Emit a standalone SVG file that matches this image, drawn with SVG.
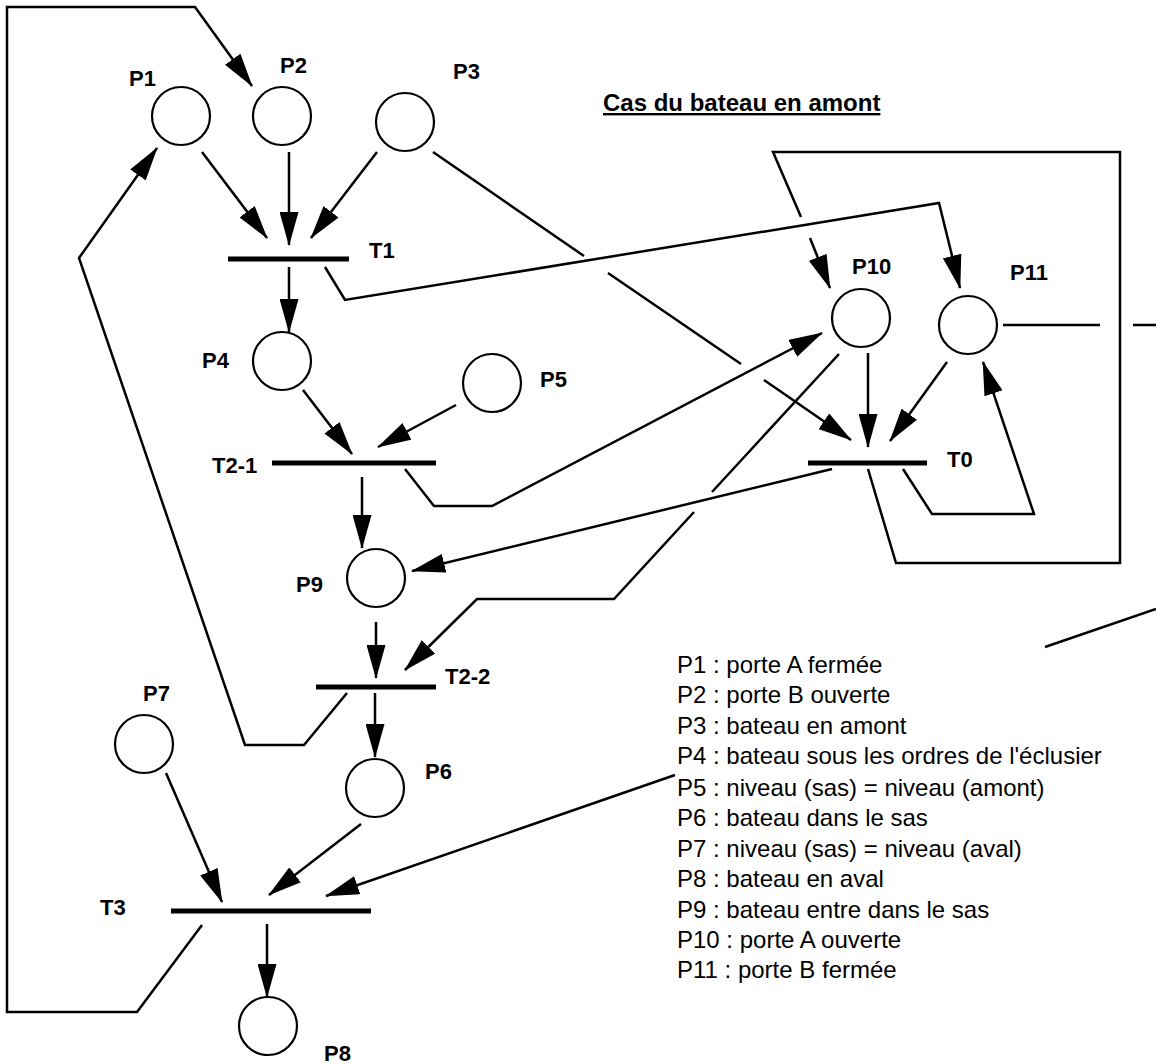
<svg xmlns="http://www.w3.org/2000/svg" width="1156" height="1064" viewBox="0 0 1156 1064">
<style>
  .place { fill: #fff; stroke: #000; stroke-width: 2.2; }
  .bar { stroke: #000; stroke-width: 5; }
  .arc { fill: none; stroke: #000; stroke-width: 2.5; stroke-linejoin: miter; }
  .arr { marker-end: url(#ah); }
  .lbl { font-family: "Liberation Sans", Arial, Helvetica, sans-serif; font-weight: bold; font-size: 22px; fill: #000; }
  .leg { font-family: "Liberation Sans", Arial, Helvetica, sans-serif; font-size: 24px; fill: #000; }
  .title { font-family: "Liberation Sans", Arial, Helvetica, sans-serif; font-weight: bold; font-size: 24px; fill: #000; text-decoration: underline; }
</style>
<defs>
  <marker id="ah" markerUnits="userSpaceOnUse" markerWidth="34" markerHeight="19" viewBox="0 0 34 19" refX="33" refY="9.5" orient="auto">
    <path d="M0,0 L34,9.5 L0,19 Z" fill="#000"/>
  </marker>
</defs>
<rect width="1156" height="1064" fill="#fff"/>

<g id="connectors">
  <path class="arc arr" d="M202,152 L267,238"/>
  <path class="arc arr" d="M289,152 L289,245"/>
  <path class="arc arr" d="M377,152 L311,238"/>
  <path class="arc arr" d="M289,267 L289,332"/>
  <path class="arc arr" d="M303,390 L352,454"/>
  <path class="arc arr" d="M456,405 L378,447"/>
  <path class="arc arr" d="M362,477 L362,548"/>
  <path class="arc arr" d="M376,622 L376,678"/>
  <path class="arc arr" d="M375,693 L375,757"/>
  <path class="arc arr" d="M166,773 L222,902"/>
  <path class="arc arr" d="M361,824 L269,895"/>
  <path class="arc arr" d="M267,924 L267,997"/>
  <path class="arc arr" d="M202,925 L137,1012 L7,1012 L7,7 L195,7 L252,86"/>
  <path class="arc arr" d="M347,693 L304,745 L245,745 L79,258 L157,148"/>
  <path class="arc arr" d="M325,267 L345,300 L939,203 L960,288"/>
  <path class="arc arr" d="M433,152 L584,256 M608,273 L741,364 M764,380 L851,440"/>
  <path class="arc arr" d="M405,469 L434,506 L492,506 L822,333"/>
  <path class="arc arr" d="M839,354 L712,492 M694,512 L614,599 L477,599 L405,670"/>
  <path class="arc arr" d="M868,353 L868,447"/>
  <path class="arc arr" d="M947,362 L890,441"/>
  <path class="arc arr" d="M903,469 L932,514 L1034,514 L983,362"/>
  <path class="arc arr" d="M832,469 L412,571"/>
  <path class="arc arr" d="M868,469 L896,563 L1120,563 L1120,152 L773,152 L801,217 M810,238 L830,288"/>
  <path class="arc" d="M1003,325 L1100,325 M1133,325 L1156,325"/>
  <path class="arc arr" d="M1156,609 L1045,647 M675,775 L326,896"/>
</g>

<g id="P1"><circle class="place" cx="181" cy="116" r="29"/><text class="lbl" x="129" y="86">P1</text></g>
<g id="P2"><circle class="place" cx="282" cy="116" r="29"/><text class="lbl" x="280" y="73">P2</text></g>
<g id="P3"><circle class="place" cx="405" cy="122" r="29"/><text class="lbl" x="453" y="79">P3</text></g>
<g id="P4"><circle class="place" cx="282" cy="361" r="29"/><text class="lbl" x="202" y="368">P4</text></g>
<g id="P5"><circle class="place" cx="492" cy="383" r="29"/><text class="lbl" x="540" y="387">P5</text></g>
<g id="P6"><circle class="place" cx="375" cy="788" r="29"/><text class="lbl" x="425" y="779">P6</text></g>
<g id="P7"><circle class="place" cx="144" cy="744" r="29"/><text class="lbl" x="143" y="701">P7</text></g>
<g id="P8"><circle class="place" cx="268" cy="1026" r="29"/><text class="lbl" x="324" y="1061">P8</text></g>
<g id="P9"><circle class="place" cx="376" cy="578" r="29"/><text class="lbl" x="296" y="592">P9</text></g>
<g id="P10"><circle class="place" cx="861" cy="318" r="29"/><text class="lbl" x="852" y="274">P10</text></g>
<g id="P11"><circle class="place" cx="968" cy="325" r="29"/><text class="lbl" x="1010" y="280">P11</text></g>

<g id="T1"><line class="bar" x1="228" y1="259" x2="349" y2="259"/><text class="lbl" x="369" y="258">T1</text></g>
<g id="T2-1"><line class="bar" x1="272" y1="463" x2="436" y2="463"/><text class="lbl" x="212" y="473">T2-1</text></g>
<g id="T2-2"><line class="bar" x1="316" y1="687" x2="436" y2="687"/><text class="lbl" x="445" y="684">T2-2</text></g>
<g id="T3"><line class="bar" x1="171" y1="911" x2="371" y2="911"/><text class="lbl" x="100" y="915">T3</text></g>
<g id="T0"><line class="bar" x1="808" y1="463" x2="927" y2="463"/><text class="lbl" x="947" y="467">T0</text></g>

<g id="title"><text class="title" x="603" y="111">Cas du bateau en amont</text></g>

<g id="legend">
  <text class="leg" x="677" y="673">P1 : porte A fermée</text>
  <text class="leg" x="677" y="703">P2 : porte B ouverte</text>
  <text class="leg" x="677" y="734">P3 : bateau en amont</text>
  <text class="leg" x="677" y="764">P4 : bateau sous les ordres de l'éclusier</text>
  <text class="leg" x="677" y="796">P5 : niveau (sas) = niveau (amont)</text>
  <text class="leg" x="677" y="826">P6 : bateau dans le sas</text>
  <text class="leg" x="677" y="857">P7 : niveau (sas) = niveau (aval)</text>
  <text class="leg" x="677" y="887">P8 : bateau en aval</text>
  <text class="leg" x="677" y="918">P9 : bateau entre dans le sas</text>
  <text class="leg" x="677" y="948">P10 : porte A ouverte</text>
  <text class="leg" x="677" y="978">P11 : porte B fermée</text>
</g>
</svg>
